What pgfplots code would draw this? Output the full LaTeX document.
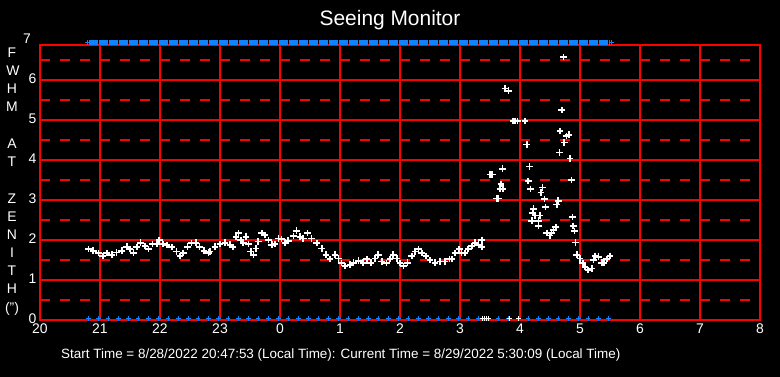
\documentclass[border=0pt]{standalone}
\usepackage{pgfplots}
\pgfplotsset{compat=1.18}
\usepackage{fontspec}
\setmainfont{Liberation Sans}
\definecolor{seeblue}{RGB}{16,132,255}
\begin{document}
\begin{tikzpicture}
\path[use as bounding box] (0,0) rectangle (780bp,377bp);
\fill[black] (0,0) rectangle (780bp,377bp);
\node[white, font=\fontsize{21}{21}\selectfont] at (390bp,357bp) {Seeing Monitor};
\node[white, anchor=west, inner sep=0pt, font=\fontsize{13.5}{13.5}\selectfont] at (61bp,22bp) {Start Time = 8/28/2022 20:47:53 (Local Time): Current Time = 8/29/2022 5:30:09 (Local Time)};
\begin{scope}[every node/.style={white, font=\fontsize{14}{14}\selectfont}]
\node at (12bp,324bp) {F};
\node at (13bp,306bp) {W};
\node at (12bp,288bp) {H};
\node at (12bp,270bp) {M};
\node at (12bp,233bp) {A};
\node at (12bp,215bp) {T};
\node at (12bp,178bp) {Z};
\node at (12bp,160bp) {E};
\node at (12bp,142bp) {N};
\node at (12bp,124bp) {I};
\node at (12bp,106bp) {T};
\node at (12bp,88bp) {H};
\node at (12bp,68bp) {(")};
\end{scope}
\begin{axis}[
  at={(40bp,57bp)}, anchor=south west,
  width=720bp, height=275bp, scale only axis,
  xmin=20, xmax=32, ymin=0, ymax=6.875,
  clip=false,
  axis line style={red, line width=1.4bp},
  xtick={20,21,...,32},
  xticklabels={20,21,22,23,0,1,2,3,4,5,6,7,8},
  ytick={0,1,...,6},
  minor ytick={0.5,1.5,...,6.5},
  major tick length=0pt, minor tick length=0pt,
  xmajorgrids=true, ymajorgrids=true, yminorgrids=true,
  major grid style={red, line width=1.4bp},
  minor grid style={red, line width=1.4bp, dash pattern=on 10bp off 10bp},
  tick label style={white, font=\fontsize{14}{14}\selectfont},
  yticklabel style={yshift=1.5bp},
  /pgf/number format/assume math mode=true,
]
% top blue band
\addplot[seeblue, line width=5bp, dash pattern=on 9.2bp off 0.8bp] coordinates {(20.82,6.94) (29.49,6.94)};
\addplot[seeblue, only marks, mark=+, mark size=2.3bp, line width=1.2bp] coordinates {(20.79,6.94) (29.52,6.94)};
% bottom blue marks
\addplot[seeblue, only marks, mark=+, mark size=2.2bp, line width=1.3bp] coordinates {
(20.805,0.04) (20.972,0.04) (21.138,0.04) (21.305,0.04) (21.472,0.04) (21.638,0.04)
(21.805,0.04) (21.972,0.04) (22.138,0.04) (22.305,0.04) (22.472,0.04) (22.638,0.04)
(22.805,0.04) (22.972,0.04) (23.138,0.04) (23.305,0.04) (23.472,0.04) (23.638,0.04)
(23.805,0.04) (23.972,0.04) (24.138,0.04) (24.305,0.04) (24.472,0.04) (24.638,0.04)
(24.805,0.04) (24.972,0.04) (25.138,0.04) (25.305,0.04) (25.472,0.04) (25.638,0.04)
(25.805,0.04) (25.972,0.04) (26.138,0.04) (26.305,0.04) (26.472,0.04) (26.638,0.04)
(26.805,0.04) (26.972,0.04) (27.138,0.04) (27.305,0.04) (27.472,0.04) (27.638,0.04)
(27.805,0.04) (27.972,0.04) (28.138,0.04) (28.305,0.04) (28.472,0.04) (28.638,0.04)
(28.805,0.04) (28.972,0.04) (29.138,0.04) (29.305,0.04) (29.472,0.04)};
% bottom white marks
\addplot[white, only marks, mark=+, mark size=2.4bp, line width=1.3bp] coordinates {
(27.38,0.04) (27.41,0.04) (27.44,0.04) (27.47,0.04) (27.83,0.04) (27.97,0.04)};
% FWHM data
\addplot[white, only marks, mark=+, mark size=3.3bp, line width=1.6bp] coordinates {
(20.805,1.77) (20.888,1.73) (20.972,1.67) (21.045,1.60) (21.112,1.67) (21.195,1.63)
(21.278,1.69) (21.362,1.73) (21.445,1.83) (21.500,1.77) (21.555,1.68) (21.612,1.82)
(21.678,1.93) (21.750,1.85) (21.805,1.77) (21.878,1.90) (21.945,1.90) (21.988,2.00)
(22.045,1.90) (22.112,1.87) (22.195,1.82) (22.278,1.71) (22.333,1.60) (22.388,1.67)
(22.455,1.83) (22.528,1.92) (22.600,1.93) (22.655,1.83) (22.733,1.73) (22.805,1.68)
(22.833,1.71) (22.917,1.83) (23.000,1.90) (23.083,1.93) (23.167,1.88) (23.212,1.82)
(23.267,2.08) (23.305,2.17) (23.345,2.00) (23.388,1.93) (23.433,2.08) (23.472,1.90)
(23.512,1.71) (23.555,1.63) (23.600,1.79) (23.638,1.96) (23.695,2.17) (23.750,2.12)
(23.805,2.00) (23.862,1.88) (23.917,1.90) (23.972,2.04) (24.028,2.02) (24.083,1.93)
(24.138,1.98) (24.222,2.10) (24.278,2.23) (24.333,2.08) (24.388,2.04) (24.455,2.17)
(24.528,2.04) (24.612,1.92) (24.695,1.79) (24.767,1.63) (24.833,1.52) (24.917,1.63)
(24.972,1.54) (25.028,1.42) (25.083,1.35) (25.167,1.38) (25.222,1.43) (25.305,1.48)
(25.388,1.43) (25.445,1.52) (25.512,1.43) (25.583,1.54) (25.638,1.63) (25.695,1.46)
(25.778,1.42) (25.833,1.52) (25.888,1.63) (25.945,1.54) (26.000,1.42) (26.055,1.35)
(26.122,1.43) (26.195,1.60) (26.250,1.71) (26.305,1.77) (26.362,1.67) (26.433,1.60)
(26.500,1.50) (26.583,1.43) (26.667,1.46) (26.750,1.46) (26.822,1.52) (26.862,1.52)
(26.917,1.67) (26.988,1.77) (27.028,1.68) (27.083,1.67) (27.138,1.77) (27.195,1.85)
(27.250,1.93) (27.305,1.88) (27.362,1.83) (27.362,2.00)
(27.750,5.79) (27.805,5.73)
(27.888,4.97) (27.917,4.97) (27.955,4.97) (28.083,4.97)
(28.695,5.25) (28.722,6.57)
(28.667,4.72) (28.778,4.60) (28.812,4.63) (28.738,4.44) (28.655,4.19) (28.833,4.04)
(28.112,4.39) (27.705,3.78) (28.155,3.84)
(27.500,3.64) (27.538,3.64)
(27.683,3.40) (27.667,3.28) (27.717,3.28) (27.612,3.04) (27.638,3.04)
(28.138,3.47) (28.172,3.27) (28.378,3.31) (28.350,3.19) (28.855,3.50)
(28.405,3.02) (28.422,2.82) (28.638,2.98) (28.612,2.89)
(28.222,2.78) (28.212,2.67) (28.250,2.61) (28.333,2.61) (28.195,2.48) (28.305,2.48) (28.305,2.35)
(28.872,2.57) (28.888,2.35) (28.905,2.22) (28.928,1.94)
(28.445,2.17) (28.500,2.11) (28.555,2.25) (28.595,2.32) (28.528,2.17)
(28.945,1.63) (29.000,1.54) (29.045,1.42) (29.083,1.33) (29.138,1.25) (29.195,1.29)
(29.222,1.50) (29.250,1.60) (29.305,1.58) (29.362,1.43) (29.400,1.42) (29.445,1.52) (29.500,1.60)};
\node[anchor=east, white, font=\fontsize{14}{14}\selectfont, xshift=-0.2cm, yshift=1.5bp] at (axis cs:20,7) {7};
\end{axis}
\end{tikzpicture}
\end{document}
